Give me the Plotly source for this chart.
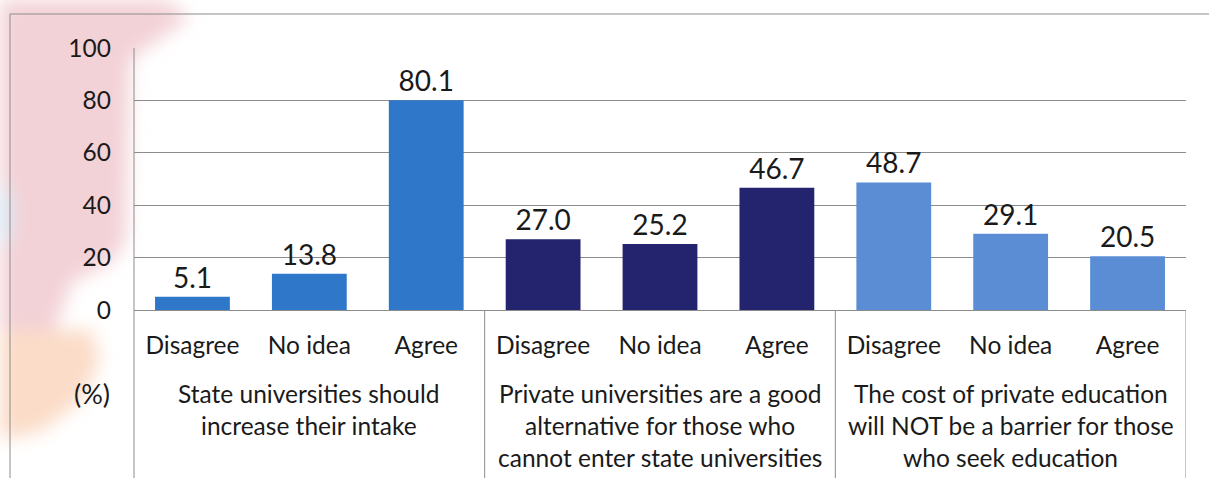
import base64
import plotly.graph_objects as go

# Survey responses (%) for three statements
responses = ["Disagree", "No idea", "Agree"]
statements = [
    ["State universities should", "increase their intake"],
    ["Private universities are a good", "alternative for those who", "cannot enter state universities"],
    ["The cost of private education", "will NOT be a barrier for those", "who seek education"],
]
state_intake = [5.1, 13.8, 80.1]
private_alternative = [27.0, 25.2, 46.7]
cost_not_barrier = [48.7, 29.1, 20.5]
series_colors = ["#2F78C9", "#23236E", "#5B8DD5"]
y_ticks = [0, 20, 40, 60, 80, 100]

W, H = 1209, 478
L, R, T, B = 134, 1186, 48, 310  # plot-area pixel box

def px(x):
    return (x - L) / (R - L)

def py(y):
    return (B - y) / (B - T)

FONT = "Lato"
TXT = "#1a1a1a"
LABEL_SIZE = 24.5

fig = go.Figure()
groups = [state_intake, private_alternative, cost_not_barrier]
n = len(responses)
for gi, (vals, col) in enumerate(zip(groups, series_colors)):
    xs = [gi * n + i for i in range(n)]
    fig.add_trace(go.Bar(
        x=xs, y=vals, width=0.64, marker=dict(color=col, line=dict(width=0)),
        text=[f"{v:.1f}" for v in vals], textposition="outside",
        textfont=dict(family=FONT, size=28, color=TXT),
        cliponaxis=False, showlegend=False,
    ))

all_x = list(range(n * len(groups)))
fig.update_xaxes(
    range=[-0.5, len(all_x) - 0.5], tickvals=all_x, ticktext=responses * len(groups),
    tickfont=dict(family=FONT, size=LABEL_SIZE, color=TXT), ticks="", showgrid=False,
    zeroline=False, showline=False, ticklabelstandoff=18, fixedrange=True,
)
fig.update_yaxes(
    range=[0, 100], tickvals=y_ticks, tickfont=dict(family=FONT, size=24.5, color=TXT),
    showgrid=True, gridcolor="#8c8c8c", gridwidth=1, zeroline=True, zerolinecolor="#8c8c8c",
    zerolinewidth=1, showline=False, ticks="", ticklabelstandoff=22, fixedrange=True,
)

# Soft pink/peach emblem behind the left margin
svg = f'''<svg xmlns="http://www.w3.org/2000/svg" width="{W}" height="{H}">
<defs><filter id="b" x="-50%" y="-50%" width="200%" height="200%"><feGaussianBlur stdDeviation="9"/></filter></defs>
<g filter="url(#b)">
<path d="M0,0 L165,0 L190,18 L155,42 L130,60 L126,240 L112,262 L72,282 L55,330 L0,330 Z" fill="#f3d2d7"/>
<path d="M0,330 L92,330 L100,360 L82,400 L40,432 L0,440 Z" fill="#fbdcc8"/>
<ellipse cx="4" cy="215" rx="8" ry="30" fill="#d6eaf6"/>
</g></svg>'''
uri = "data:image/svg+xml;base64," + base64.b64encode(svg.encode()).decode()
fig.add_layout_image(dict(
    source=uri, xref="paper", yref="paper", x=px(0), y=py(0),
    sizex=W / (R - L), sizey=H / (B - T), sizing="stretch",
    xanchor="left", yanchor="top", layer="below",
))

line = dict(color="#8c8c8c", width=1)
# outer frame
fig.add_shape(type="line", xref="paper", yref="paper", x0=px(10), x1=px(W + 5), y0=py(14), y1=py(14), line=line)
fig.add_shape(type="line", xref="paper", yref="paper", x0=px(10), x1=px(10), y0=py(14), y1=py(H + 5), line=line)
# plot-area left edge and group dividers
fig.add_shape(type="line", xref="paper", yref="paper", x0=0, x1=0, y0=1, y1=py(H + 5), line=line)
for gi in range(1, len(groups) + 1):
    xd = gi * n - 0.5
    fig.add_shape(type="line", xref="x", yref="paper", x0=xd, x1=xd, y0=0, y1=py(H + 5), line=line)

# statement labels under each group
line_y = [393, 425, 457]
for gi, lines in enumerate(statements):
    for li, t in enumerate(lines):
        fig.add_annotation(x=gi * n + (n - 1) / 2, xref="x", y=py(line_y[li]), yref="paper",
                           text=t, showarrow=False, yanchor="middle",
                           font=dict(family=FONT, size=LABEL_SIZE, color=TXT))
fig.add_annotation(x=px(112), xref="paper", y=py(393), yref="paper", text="(%)", showarrow=False,
                   xanchor="right", yanchor="middle", font=dict(family=FONT, size=27, color=TXT))

fig.update_layout(
    width=W, height=H, margin=dict(l=L, r=W - R, t=T, b=H - B),
    paper_bgcolor="white", plot_bgcolor="rgba(0,0,0,0)", bargap=0.36,
    font=dict(family=FONT, color=TXT),
)
fig.write_html("out.html")
